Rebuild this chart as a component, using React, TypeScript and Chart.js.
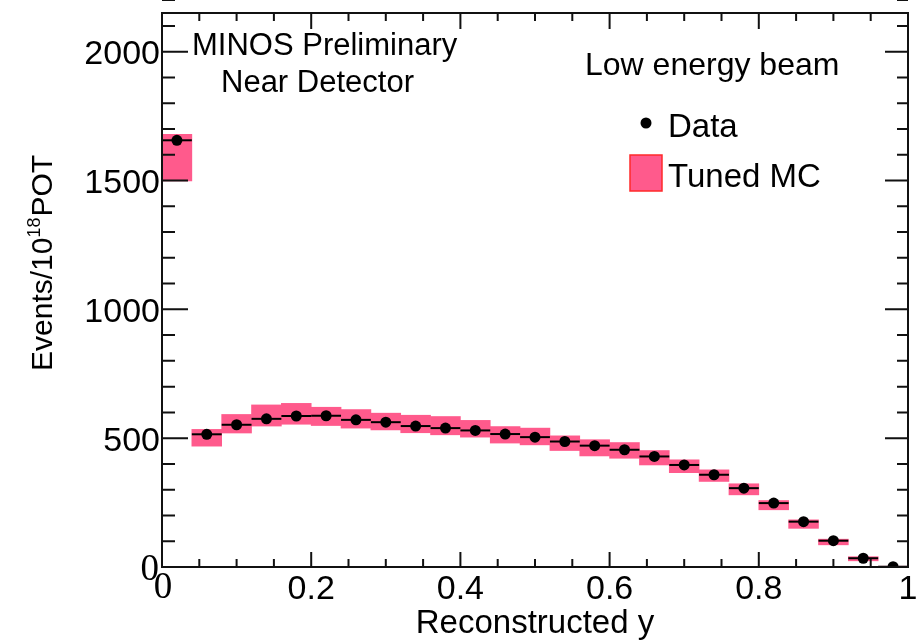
import React, { useEffect, useRef } from 'react';
import { Chart, registerables } from 'chart.js';

Chart.register(...registerables);

// ---- data ----
const binCenters = [0.02, 0.06, 0.10, 0.14, 0.18, 0.22, 0.26, 0.30, 0.34, 0.38, 0.42, 0.46, 0.50, 0.54, 0.58, 0.62, 0.66, 0.70, 0.74, 0.78, 0.82, 0.86, 0.90, 0.94, 0.98];
const dataValues = [1656, 515, 552, 575, 586, 587, 571, 562, 547, 539, 530, 516, 504, 487, 471, 455, 429, 396, 358, 306, 248, 176, 102, 34, 1];
const mcLow = [1498, 469, 520, 547, 554, 549, 539, 532, 521, 513, 504, 481, 474, 452, 431, 422, 396, 366, 332, 280, 222, 150, 86, 24, 0];
const mcHigh = [1679, 534, 592, 629, 635, 620, 611, 597, 589, 584, 569, 545, 539, 509, 494, 483, 452, 416, 377, 323, 258, 183, 108, 40, 3];
const binHalfWidth = 0.02;

const xTickValues = [0, 0.2, 0.4, 0.6, 0.8, 1];
const xTickLabels = ['0', '0.2', '0.4', '0.6', '0.8', '1'];
const yTickValues = [0, 500, 1000, 1500, 2000];
const yTickLabels = ['0', '500', '1000', '1500', '2000'];
const xMinorStep = 0.05;
const yMinorStep = 100;
const xMin = 0;
const xMax = 1;
const yMin = 0;
const yMax = 2150;

const SANS = '"Liberation Sans", Arial, Helvetica, sans-serif';
const SERIF = '"Liberation Serif", "Times New Roman", serif';
const MC_FILL = '#ff5a8c';
const MC_EDGE = '#ff2a2a';

const rootStylePlugin = {
  id: 'rootStyle',
  beforeDatasetDraw(chart: any, args: any) {
    if (args.index !== 1) return;
    // horizontal bin-width error bars for data points
    const { ctx, scales } = chart;
    const x = scales.x;
    const y = scales.y;
    ctx.save();
    ctx.strokeStyle = '#000';
    ctx.lineWidth = 2;
    binCenters.forEach((c, i) => {
      const py = y.getPixelForValue(dataValues[i]);
      ctx.beginPath();
      ctx.moveTo(x.getPixelForValue(c - binHalfWidth), py);
      ctx.lineTo(x.getPixelForValue(c + binHalfWidth), py);
      ctx.stroke();
    });
    ctx.restore();
  },
  afterDatasetsDraw(chart: any) {
    const { ctx, chartArea: a, scales } = chart;
    const x = scales.x;
    const y = scales.y;
    ctx.save();
    ctx.strokeStyle = '#111';
    ctx.lineWidth = 2;
    // y ticks (left & right)
    const nY = Math.round((yMax - yMin) / yMinorStep);
    for (let i = 0; i <= nY; i++) {
      const v = yMin + i * yMinorStep;
      const major = yTickValues.indexOf(v) >= 0;
      const py = y.getPixelForValue(v);
      ctx.beginPath();
      ctx.moveTo(a.left, py);
      ctx.lineTo(a.left + (major ? 26 : 13), py);
      ctx.moveTo(a.right, py);
      ctx.lineTo(a.right - (major ? 23 : 11), py);
      ctx.stroke();
    }
    // x ticks (bottom & top)
    const nX = Math.round((xMax - xMin) / xMinorStep);
    for (let i = 0; i <= nX; i++) {
      const v = xMin + i * xMinorStep;
      const major = xTickValues.some((t) => Math.abs(t - v) < 1e-9);
      const px = x.getPixelForValue(v);
      ctx.beginPath();
      ctx.moveTo(px, a.bottom);
      ctx.lineTo(px, a.bottom - (major ? 15 : 8));
      ctx.moveTo(px, a.top);
      ctx.lineTo(px, a.top + (major ? 16 : 8));
      ctx.stroke();
    }
    // frame
    ctx.strokeRect(a.left, a.top, a.right - a.left, a.bottom - a.top);
    ctx.restore();
  },
  afterDraw(chart: any) {
    const { ctx, scales } = chart;
    const x = scales.x;
    const y = scales.y;
    ctx.save();
    ctx.fillStyle = '#000';
    // origin labels (serif zeros, as in the reference)
    ctx.font = `37px ${SERIF}`;
    ctx.textBaseline = 'middle';
    ctx.textAlign = 'right';
    ctx.fillText(yTickLabels[0], x.getPixelForValue(xMin) - 3, y.getPixelForValue(yTickValues[0]) + 3);
    ctx.textAlign = 'center';
    ctx.fillText(xTickLabels[0], x.getPixelForValue(xTickValues[0]) + 1, y.getPixelForValue(yMin) + 21);

    ctx.textBaseline = 'alphabetic';
    ctx.textAlign = 'left';
    // annotations
    ctx.font = `31px ${SANS}`;
    ctx.fillText('MINOS Preliminary', 192, 55);
    ctx.fillText('Near Detector', 221, 92);
    ctx.font = `32px ${SANS}`;
    ctx.fillText('Low energy beam', 585, 75);
    // legend
    ctx.font = `33px ${SANS}`;
    ctx.fillText('Data', 668, 137);
    ctx.fillText('Tuned MC', 668, 187);
    ctx.beginPath();
    ctx.arc(646, 123, 5.5, 0, Math.PI * 2);
    ctx.fill();
    ctx.fillStyle = MC_FILL;
    ctx.fillRect(630, 155, 32, 36);
    ctx.strokeStyle = MC_EDGE;
    ctx.lineWidth = 1.5;
    ctx.strokeRect(630, 155, 32, 36);
    // y-axis title with superscript
    ctx.fillStyle = '#000';
    ctx.translate(52, 371);
    ctx.rotate(-Math.PI / 2);
    ctx.font = `30px ${SANS}`;
    const t1 = 'Events/10';
    ctx.fillText(t1, 0, 0);
    const w1 = ctx.measureText(t1).width;
    ctx.font = `18px ${SANS}`;
    const t2 = '18';
    ctx.fillText(t2, w1, -12);
    const w2 = ctx.measureText(t2).width;
    ctx.font = `30px ${SANS}`;
    ctx.fillText('POT', w1 + w2 + 1, 0);
    ctx.restore();
  },
};

const tickFont = { family: SANS, size: 34, lineHeight: 1.2 };

export default function App() {
  const canvasRef = useRef<HTMLCanvasElement | null>(null);

  useEffect(() => {
    const canvas = canvasRef.current;
    if (!canvas) return;
    const chart = new Chart(canvas, {
      type: 'scatter',
      data: {
        datasets: [
          {
            type: 'bar',
            label: 'Tuned MC',
            data: binCenters.map((c, i) => ({ x: c, y: [mcLow[i], mcHigh[i]] })) as any,
            backgroundColor: MC_FILL,
            borderWidth: 0,
            borderSkipped: false,
            barPercentage: 1,
            categoryPercentage: 1,
            order: 2,
          } as any,
          {
            type: 'scatter',
            label: 'Data',
            data: binCenters.map((c, i) => ({ x: c, y: dataValues[i] })),
            backgroundColor: '#000',
            borderColor: '#000',
            pointRadius: 5.5,
            pointBorderWidth: 0,
            order: 1,
          } as any,
        ],
      },
      options: {
        responsive: false,
        animation: false,
        events: [],
        layout: { padding: { top: 13, right: 10, left: 0, bottom: 0 } },
        plugins: {
          legend: { display: false },
          tooltip: { enabled: false },
        },
        scales: {
          x: {
            type: 'linear',
            position: 'bottom',
            min: xMin,
            max: xMax,
            offset: false,
            grid: { display: false, drawTicks: false },
            border: { display: false },
            ticks: {
              autoSkip: false,
              maxRotation: 0,
              minRotation: 0,
              padding: 2,
              color: '#000',
              font: tickFont,
              callback: (v: any) => {
                const i = xTickValues.findIndex((t) => Math.abs(t - Number(v)) < 1e-9);
                // the origin "0" is drawn separately in a serif face
                return i > 0 ? xTickLabels[i] : '';
              },
            },
            title: {
              display: true,
              text: 'Reconstructed y',
              color: '#000',
              font: { family: SANS, size: 33, lineHeight: 1 },
              padding: { top: 0, bottom: 0 },
            },
            afterBuildTicks: (s: any) => {
              s.ticks = xTickValues.map((v) => ({ value: v }));
            },
            afterFit: (s: any) => {
              s.height = 73;
              s.paddingLeft = 0;
              s.paddingRight = 0;
              s.paddingTop = 0;
              s.paddingBottom = 0;
            },
          } as any,
          y: {
            type: 'linear',
            min: yMin,
            max: yMax,
            grid: { display: false, drawTicks: false },
            border: { display: false },
            ticks: {
              autoSkip: false,
              padding: 2,
              labelOffset: 3,
              color: '#000',
              font: tickFont,
              callback: (v: any) => {
                const i = yTickValues.indexOf(Number(v));
                return i > 0 ? yTickLabels[i] : '';
              },
            },
            afterBuildTicks: (s: any) => {
              s.ticks = yTickValues.map((v) => ({ value: v }));
            },
            afterFit: (s: any) => {
              s.width = 162;
              s.paddingLeft = 0;
              s.paddingRight = 0;
              s.paddingTop = 0;
              s.paddingBottom = 0;
            },
          } as any,
        },
      },
      plugins: [rootStylePlugin],
    });
    return () => chart.destroy();
  }, []);

  return (
    <div style={{ position: 'fixed', left: 0, top: 0, width: 918, height: 640, background: '#fff' }}>
      <canvas ref={canvasRef} width={918} height={640} style={{ display: 'block' }} />
    </div>
  );
}
